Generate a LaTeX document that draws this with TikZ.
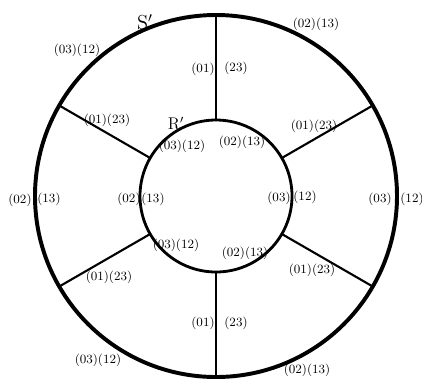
\documentclass[tikz,border=0pt]{standalone}
\usepackage{amsmath,amssymb}
\usepackage{tikz}
\usetikzlibrary{calc}

\begin{document}
\begin{tikzpicture}[scale=0.025,
    lbl/.style={font=\small, inner sep=1pt}]

\useasboundingbox (-216,-184) rectangle (206,196);

% Circles
\draw[line width=2.8pt] (0,0) circle (181);
\draw[line width=2pt] (0,0) circle (76);

% Spokes between the two circles
\foreach \a in {30,90,...,330} {
  \coordinate (in\a) at (\a:76);
  \coordinate (out\a) at (\a:181);
  \draw[line width=1.5pt] (in\a) -- (out\a);
}

% Circle names
\node[font=\Large] (S) at (-71,174) {$\mathrm{S}'$};
\node[font=\large] (R) at (-40,73) {$\mathrm{R}'$};

% Labels on the outer circle
\node[lbl] (oTL) at (-139,146) {(03)(12)};
\node[lbl] (oTR) at (100,172) {(02)(13)};
\node[lbl] (oLa) at (-196,-4) {(02)};
\node[lbl] (oLb) at (-167,-3) {(13)};
\node[lbl] (oRa) at (164,-3) {(03)};
\node[lbl] (oRb) at (196,-3) {(12)};
\node[lbl] (oBL) at (-118,-164) {(03)(12)};
\node[lbl] (oBR) at (91,-174) {(02)(13)};

% Labels on the inner circle
\node[lbl] (iUL) at (-34,50) {(03)(12)};
\node[lbl] (iUR) at (26,54) {(02)(13)};
\node[lbl] (iLa) at (-87,-3) {(02)};
\node[lbl] (iLb) at (-63,-3) {(13)};
\node[lbl] (iRa) at (63,-2) {(03)};
\node[lbl] (iRb) at (89,-1) {(12)};
\node[lbl] (iLL) at (-40,-49) {(03)(12)};
\node[lbl] (iLR) at (29,-57) {(02)(13)};

% Labels on the spokes
\node[lbl] (sTa) at (-13,127) {(01)};
\node[lbl] (sTb) at (20,128) {(23)};
\node[lbl] (sUL) at (-109,76) {(01)(23)};
\node[lbl] (sUR) at (98,70) {(01)(23)};
\node[lbl] (sLL) at (-107,-81) {(01)(23)};
\node[lbl] (sLR) at (96,-74) {(01)(23)};
\node[lbl] (sBa) at (-13,-127) {(01)};
\node[lbl] (sBb) at (20,-127) {(23)};

\end{tikzpicture}
\end{document}
